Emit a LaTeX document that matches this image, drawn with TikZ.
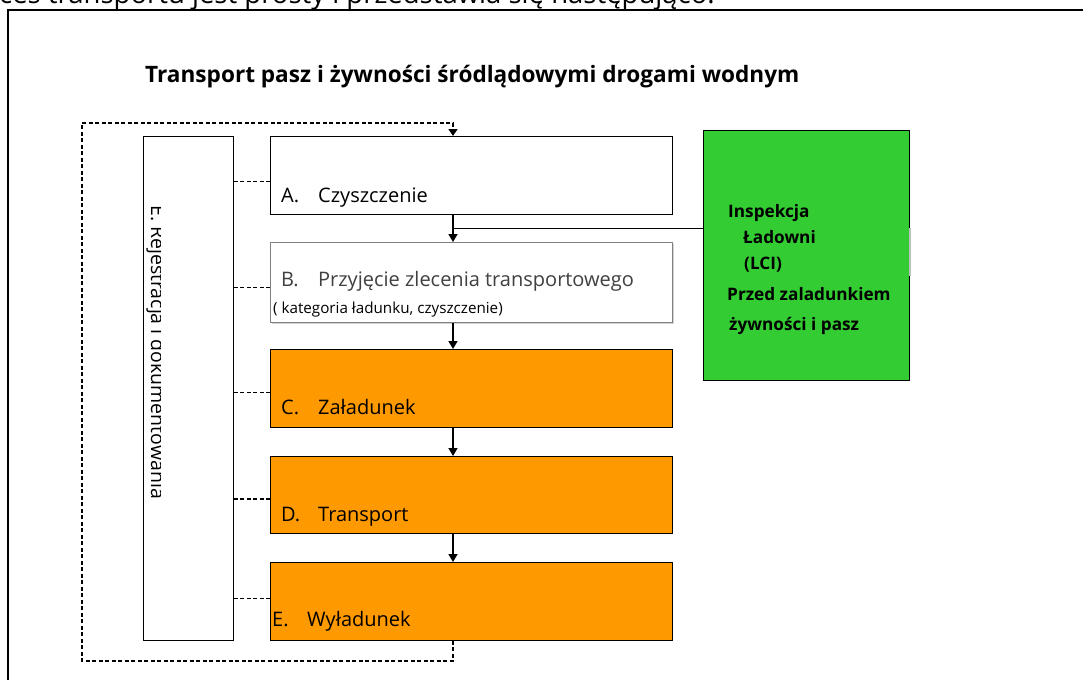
\documentclass[tikz,border=0pt]{standalone}
\usepackage{fontspec}
\setmainfont{Open Sans}
\usetikzlibrary{arrows.meta}
\definecolor{boxorange}{HTML}{FF9900}
\definecolor{lcigreen}{HTML}{33CC33}
\definecolor{txtgray}{HTML}{404040}
\begin{document}
\begin{tikzpicture}[x=1pt,y=-1pt,
  stagebox/.style={draw=black, line width=0.8pt, minimum width=402pt, anchor=north west, inner sep=0pt},
  arr/.style={-{Triangle[width=9pt,length=8pt]}, line width=1.5pt},
  dl/.style={line width=1.7pt, dash pattern=on 4pt off 2.5pt},
  lab/.style={anchor=base west, inner sep=0pt, font=\fontsize{20}{24}\selectfont},
  gtxt/.style={anchor=base west, inner sep=0pt, font=\fontsize{17.2}{20}\selectfont\bfseries}
]
\useasboundingbox (0,0) rectangle (1083,680);
\clip (0,0) rectangle (1083,680);

% cut-off sentence at the top
\node[anchor=base west, inner sep=0pt, font=\fontsize{27.5}{30}\selectfont] (top) at (-1,4) {ces transportu jest prosty i przedstawia się następująco.};
% outer frame
\coordinate (fr1) at (8,680);
\coordinate (fr2) at (8,10);
\coordinate (fr3) at (1090,10);
\draw[line width=1.2pt] (fr1) -- (fr2) -- (fr3);

% title
\node[anchor=base west, inner sep=0pt, font=\fontsize{22.6}{26}\selectfont\bfseries] (title) at (145,82) {Transport pasz i żywności śródlądowymi drogami wodnym};

% boxes
\node[draw=black, line width=0.8pt, minimum width=90pt, minimum height=504pt, anchor=north west, inner sep=0pt, fill=white] (L) at (143,136) {};
\node[stagebox, fill=white, minimum height=78pt] (A) at (270,136) {};
\fill[gray!35] (272,244) rectangle (674,324);
\node[stagebox, draw=gray, fill=white, minimum height=80pt] (B) at (270,242) {};
\node[stagebox, fill=boxorange, minimum height=78pt] (C) at (270,349) {};
\node[stagebox, fill=boxorange, minimum height=77pt] (D) at (270,456) {};
\node[stagebox, fill=boxorange, minimum height=78pt] (E) at (270,562) {};
\node[draw=black, line width=0.8pt, fill=lcigreen, minimum width=206pt, minimum height=250pt, anchor=north west, inner sep=0pt] (G) at (703,130) {};

% rotated, partly hidden label in the left box
\begin{scope}
\clip (144,137) rectangle (160,639);
\node[anchor=base west, inner sep=0pt, rotate=-90, font=\fontsize{19.5}{22}\selectfont] (Ltxt) at (151,205) {E. Rejestracja i dokumentowania};
\end{scope}

% stage labels
\node[lab] (tA) at (281,202) {\makebox[37pt][l]{A.}Czyszczenie};
\node[lab, text=txtgray] (tB) at (281,286) {\makebox[37pt][l]{B.}Przyjęcie zlecenia transportowego};
\node[anchor=base west, inner sep=0pt, font=\fontsize{15.2}{18}\selectfont] (tB2) at (273,313) {( kategoria ładunku, czyszczenie)};
\node[lab] (tC) at (281,414) {\makebox[37pt][l]{C.}Załadunek};
\node[lab] (tD) at (281,521) {\makebox[37pt][l]{D.}Transport};
\node[lab] (tE) at (272,626) {\makebox[35pt][l]{E.}Wyładunek};

% green box text
\node[gtxt] (g1) at (728,217) {Inspekcja};
\node[gtxt] (g2) at (743,243) {Ładowni};
\node[gtxt] (g3) at (744,269) {(LCI)};
\node[gtxt] (g4) at (727,300) {Przed zaladunkiem};
\node[gtxt] (g5) at (729,330) {żywności i pasz};

% main flow
\coordinate (ax) at (453,0);
\draw[arr] (A.south -| ax) -- (B.north -| ax);
\draw[arr] (B.south -| ax) -- (C.north -| ax);
\draw[arr] (C.south -| ax) -- (D.north -| ax);
\draw[arr] (D.south -| ax) -- (E.north -| ax);

% link to LCI box
\coordinate (lj) at (453,228);
\draw[line width=1pt] (lj) -- (lj -| G.west);
\coordinate (gs) at (910,228);
\draw[gray!50, line width=1.2pt] (gs) -- ++(0,48);

% dashed links from the left box
\draw[dl] ([yshift=-6pt]A.west) -- ([yshift=-6pt]A.west -| L.east);
\draw[dl] ([yshift=-5pt]B.west) -- ([yshift=-5pt]B.west -| L.east);
\draw[dl] ([yshift=-4pt]C.west) -- ([yshift=-4pt]C.west -| L.east);
\draw[dl] ([yshift=-4pt]D.west) -- ([yshift=-4pt]D.west -| L.east);
\draw[dl] ([yshift=3pt]E.west) -- ([yshift=3pt]E.west -| L.east);

% dashed feedback loop
\coordinate (lp1) at (82,661);
\coordinate (lp2) at (82,123);
\draw[dl] (E.south -| ax) -- (lp1 -| ax) -- (lp1) -- (lp2) -- (lp2 -| ax) -- ([yshift=6pt]A.north -| ax);
\draw[-{Triangle[width=9pt,length=7pt]}, line width=1.4pt] ([yshift=7pt]A.north -| ax) -- (A.north -| ax);
\end{tikzpicture}
\end{document}
